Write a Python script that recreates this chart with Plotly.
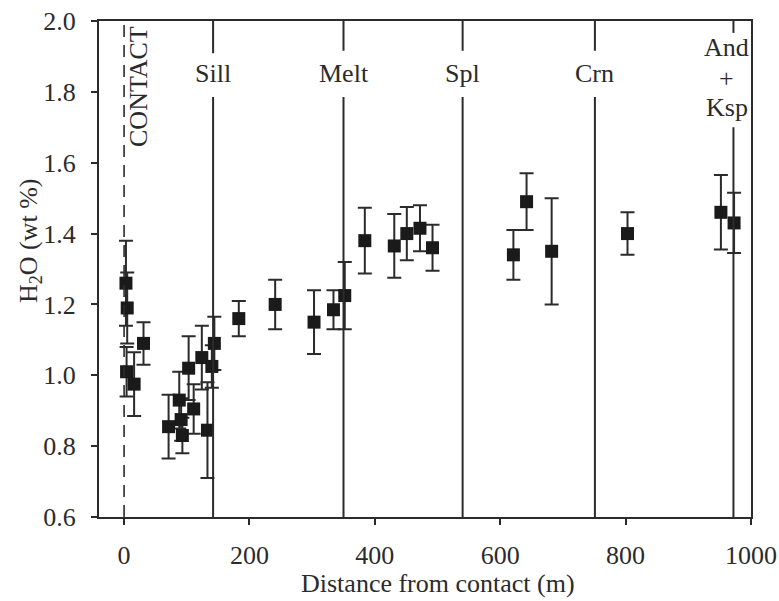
import plotly.graph_objects as go

# Sample distances from the contact (m), water contents (wt %) and 1-sigma errors
distance_m = [3, 5, 4, 16, 31, 71, 88, 91, 93, 103, 111, 124, 133, 140, 144,
              183, 241, 303, 334, 352, 384, 431, 451, 472, 492,
              621, 642, 682, 803, 952, 973]
h2o_wt = [1.26, 1.19, 1.01, 0.975, 1.09, 0.855, 0.93, 0.875, 0.83, 1.02, 0.905,
          1.05, 0.845, 1.025, 1.09,
          1.16, 1.20, 1.15, 1.185, 1.225, 1.38, 1.365, 1.40, 1.415, 1.36,
          1.34, 1.49, 1.35, 1.40, 1.46, 1.43]
h2o_err = [0.12, 0.10, 0.07, 0.09, 0.06, 0.09, 0.08, 0.06, 0.05, 0.09, 0.07,
           0.09, 0.135, 0.06, 0.075,
           0.05, 0.07, 0.09, 0.055, 0.095, 0.093, 0.09, 0.075, 0.065, 0.065,
           0.07, 0.08, 0.15, 0.06, 0.105, 0.085]

# Mineral-in isograds (m from contact)
isograd_x = [142, 350, 540, 751, 972]
isograd_labels = ["Sill", "Melt", "Spl", "Crn", "And<br>+<br>Ksp"]

x_ticks = [0, 200, 400, 600, 800, 1000]
y_ticks = [0.6, 0.8, 1.0, 1.2, 1.4, 1.6, 1.8, 2.0]

INK = "#2b2b2b"
FONT = "Liberation Serif"
FS = 26

fig = go.Figure()

fig.add_trace(go.Scatter(
    x=distance_m, y=h2o_wt,
    mode="markers",
    marker=dict(symbol="square", size=13, color="#1a1a1a"),
    error_y=dict(type="data", array=h2o_err, visible=True,
                 color=INK, thickness=2, width=7),
    showlegend=False,
))

# Contact: dashed line at 0 m
fig.add_shape(type="line", xref="x", yref="paper", x0=0, x1=0, y0=0, y1=1,
              line=dict(color=INK, width=1.6, dash="12px,8px"))
fig.add_annotation(x=23, y=0.868, xref="x", yref="paper", text="CONTACT",
                   textangle=-90, showarrow=False,
                   xanchor="center", yanchor="middle",
                   font=dict(family=FONT, size=26, color=INK))

# Isograd lines, broken around their labels
gaps = [(0.847, 0.935), (0.847, 0.94), (0.847, 0.94), (0.847, 0.94), (0.786, 0.976)]
for xv, (g0, g1) in zip(isograd_x, gaps):
    fig.add_shape(type="line", xref="x", yref="paper", x0=xv, x1=xv, y0=0, y1=g0,
                  line=dict(color=INK, width=2))
    fig.add_shape(type="line", xref="x", yref="paper", x0=xv, x1=xv, y0=g1, y1=1,
                  line=dict(color=INK, width=2))

for xv, lab in zip(isograd_x[:4], isograd_labels[:4]):
    fig.add_annotation(x=xv, y=0.895, xref="x", yref="paper", text=lab,
                       showarrow=False, xanchor="center", yanchor="middle",
                       font=dict(family=FONT, size=FS, color=INK))

and_parts = isograd_labels[4].split("<br>")
for part, yp in zip(and_parts, [0.947, 0.885, 0.826]):
    fig.add_annotation(x=961, y=yp, xref="x", yref="paper", text=part,
                       showarrow=False, xanchor="center", yanchor="middle",
                       font=dict(family=FONT, size=FS, color=INK))

# Axis titles
fig.add_annotation(x=0.52, y=-0.134, xref="paper", yref="paper",
                   text="Distance from contact (m)", showarrow=False,
                   xanchor="center", yanchor="middle",
                   font=dict(family=FONT, size=FS, color=INK))
fig.add_annotation(x=-0.106, y=0.558, xref="paper", yref="paper",
                   text="H<sub>2</sub>O (wt %)", textangle=-90, showarrow=False,
                   xanchor="center", yanchor="middle",
                   font=dict(family=FONT, size=FS, color=INK))

fig.update_layout(
    width=779, height=601,
    margin=dict(l=99, r=28, t=21, b=84),
    paper_bgcolor="white", plot_bgcolor="white",
    font=dict(family=FONT, size=FS, color=INK),
)
fig.update_xaxes(
    range=[-40, 1000], tickvals=x_ticks, ticks="outside", ticklen=6, tickwidth=2,
    tickcolor=INK, showline=True, linecolor=INK, linewidth=2, mirror=True,
    showgrid=False, zeroline=False, ticklabelstandoff=8, automargin=False,
    tickfont=dict(family=FONT, size=FS, color=INK),
)
fig.update_yaxes(
    range=[0.6, 2.0], tickvals=y_ticks, tickformat=".1f", ticks="outside",
    ticklen=6, tickwidth=2, tickcolor=INK, showline=True, linecolor=INK,
    linewidth=2, mirror=True, showgrid=False, zeroline=False,
    ticklabelstandoff=10, automargin=False,
    tickfont=dict(family=FONT, size=FS, color=INK),
)

fig.write_html("out.html")
